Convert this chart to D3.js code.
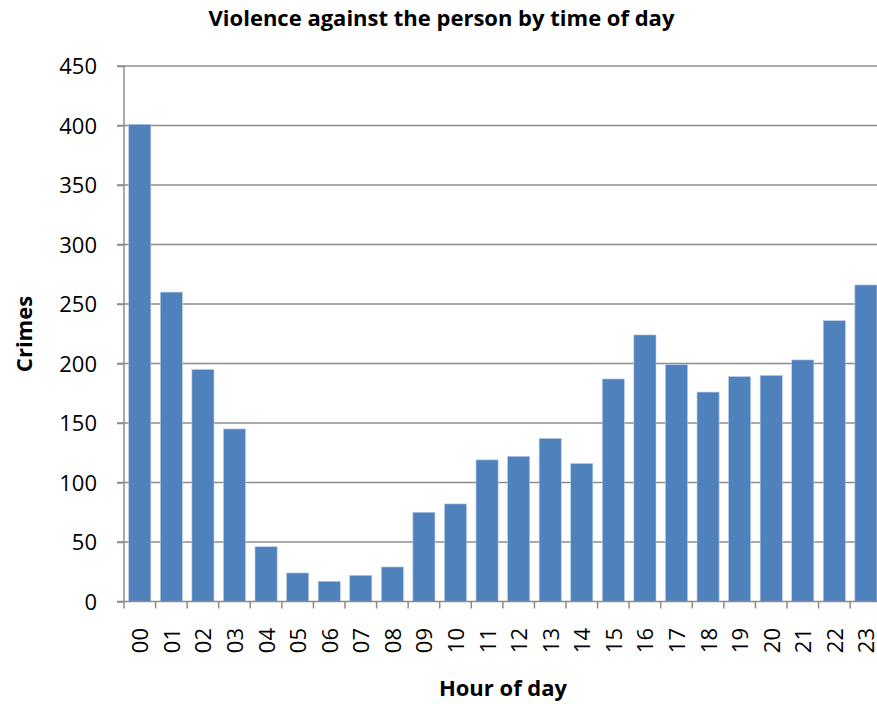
<!DOCTYPE html>
<html><head><meta charset="utf-8">
<script src="https://cdn.jsdelivr.net/npm/d3@7"></script>
<style>body{margin:0;background:#fff;overflow:hidden}svg{display:block}</style>
</head><body>
<svg id="chart" width="877" height="704"></svg>
<script>
const hours = ["00","01","02","03","04","05","06","07","08","09","10","11","12","13","14","15","16","17","18","19","20","21","22","23"];
const crimes = [401,260,195,145,46,24,17,22,29,75,82,119,122,137,116,187,224,199,176,189,190,203,236,266];
const yTicks = [0,50,100,150,200,250,300,350,400,450];
const title = "Violence against the person by time of day";
const xTitle = "Hour of day";
const yTitle = "Crimes";

const svg = d3.select("#chart");
const mLeft = 124, mRight = 881.7, mTop = 66, mBottom = 601.5;
const font = "'Open Sans', 'Liberation Sans', sans-serif";

const x = d3.scaleBand().domain(hours).range([mLeft, mRight]).paddingInner(0.3).paddingOuter(0.15);
const y = d3.scaleLinear().domain([0, 450]).range([mBottom, mTop]);

// gridlines
svg.append("g").selectAll("line").data(yTicks.filter(d => d > 0)).join("line")
  .attr("x1", mLeft - 7).attr("x2", 877)
  .attr("y1", d => y(d)).attr("y2", d => y(d))
  .attr("stroke", "#8c8c8c").attr("stroke-width", 1.5);

// bars
svg.append("g").selectAll("rect").data(crimes).join("rect")
  .attr("x", (d, i) => x(hours[i]))
  .attr("width", x.bandwidth())
  .attr("y", d => y(d))
  .attr("height", d => y(0) - y(d))
  .attr("fill", "#4F81BD")
  .attr("stroke", "#b9cde5").attr("stroke-width", 0.6);

// y axis
const yAxis = d3.axisLeft(y).tickValues(yTicks).tickSize(7).tickPadding(20);
const gy = svg.append("g").attr("transform", `translate(${mLeft},0)`).call(yAxis);
gy.select(".domain").attr("stroke", "#8c8c8c").attr("stroke-width", 1.5).attr("d", `M0,${mTop}V${mBottom}`);
gy.selectAll(".tick line").attr("stroke", "#8c8c8c").attr("stroke-width", 1.5);
gy.selectAll(".tick text").attr("font-family", font).attr("font-size", 22).attr("fill", "#000").attr("dy", "0.36em");

// x axis
const xStep = x.step();
const gx = svg.append("g").attr("transform", `translate(0,${mBottom})`);
gx.append("line").attr("x1", mLeft - 7).attr("x2", 877).attr("y1", 0).attr("y2", 0)
  .attr("stroke", "#8c8c8c").attr("stroke-width", 1.5);
const tickPos = hours.map((h, i) => x(h) - x.paddingInner() * xStep / 2);
gx.selectAll("line.tk").data(tickPos).join("line").attr("class", "tk")
  .attr("x1", d => d).attr("x2", d => d).attr("y1", 0).attr("y2", 7)
  .attr("stroke", "#8c8c8c").attr("stroke-width", 1.5);
gx.selectAll("text").data(hours).join("text")
  .attr("transform", h => `translate(${x(h) + x.bandwidth() / 2 + 8.5},${26.5}) rotate(-90)`)
  .attr("text-anchor", "end")
  .attr("font-family", font).attr("font-size", 22).attr("fill", "#000")
  .text(h => h);

// titles
svg.append("text").attr("x", 441.5).attr("y", 26).attr("text-anchor", "middle")
  .attr("font-family", font).attr("font-weight", "bold").attr("font-size", 22).text(title);
svg.append("text").attr("x", 503).attr("y", 696).attr("text-anchor", "middle")
  .attr("font-family", font).attr("font-weight", "bold").attr("font-size", 22).text(xTitle);
svg.append("text").attr("transform", "translate(32,334) rotate(-90)").attr("text-anchor", "middle")
  .attr("font-family", font).attr("font-weight", "bold").attr("font-size", 22).text(yTitle);
</script>
</body></html>
